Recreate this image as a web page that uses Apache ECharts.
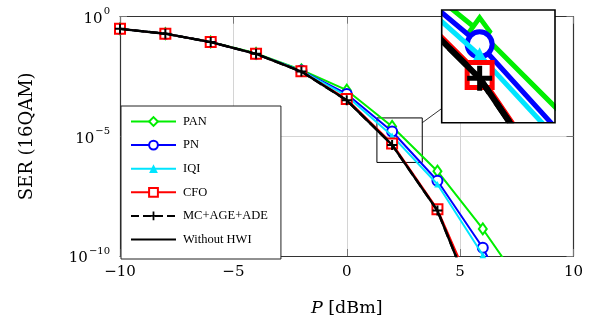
<!DOCTYPE html>
<html><head><meta charset="utf-8">
<script src="https://cdn.jsdelivr.net/npm/echarts@6/dist/echarts.min.js"></script>
<style>html,body{margin:0;padding:0;background:#fff}#c{width:603px;height:322px}</style>
</head><body><div id="c"></div>
<script>
// ---- data ----
const powerDbm = [-10, -8, -6, -4, -2, 0, 2, 4, 6, 8];
const serPAN  = [3.1e-1, 1.95e-1, 8.8e-2, 2.95e-2, 6.0e-3, 8.5e-4, 2.6e-5, 3.5e-7, 1.35e-9, 2.5e-12];
const serPN   = [3.1e-1, 1.95e-1, 8.7e-2, 2.8e-2, 5.6e-3, 5.9e-4, 1.6e-5, 1.4e-7, 2.2e-10, 5e-14];
const serIQI  = [3.1e-1, 1.95e-1, 8.7e-2, 2.8e-2, 5.5e-3, 4.9e-4, 1.05e-5, 1.0e-7, 1.1e-10, 3e-14];
const serCFO  = [3.1e-1, 1.95e-1, 8.7e-2, 2.8e-2, 5.2e-3, 3.6e-4, 5.0e-6, 8.9e-9, 4e-13, null];
const serMC   = [3.1e-1, 1.95e-1, 8.7e-2, 2.8e-2, 5.1e-3, 3.2e-4, 4.4e-6, 7.9e-9, 1.6e-13, null];
const serNoHWI= [3.1e-1, 1.95e-1, 8.7e-2, 2.8e-2, 5.1e-3, 3.2e-4, 4.4e-6, 7.9e-9, 1.6e-13, null];
const seriesNames = ['PAN', 'PN', 'IQI', 'CFO', 'MC+AGE+ADE', 'Without HWI'];
const xTicks = [-10, -5, 0, 5, 10];
const yTicks = [1, 1e-5, 1e-10];
// zoom window shown in the inset (x in dBm, y as log10 exponent)
const zoomX = [1.33, 3.33];
const zoomYExp = [-6.09, -4.23];
const connector = [[3.33, -4.43], [4.17, -3.85]];

const allData = [serPAN, serPN, serIQI, serCFO, serMC, serNoHWI];
const pairs = d => powerDbm.map((x, i) => [x, d[i]]).filter(p => p[1] != null);

const serif = 'DejaVu Serif';
const legendFont = 'Liberation Serif';
const plusPath = 'path://M4,0 H6 V4 H10 V6 H6 V10 H4 V6 H0 V4 H4 Z';

// inset layout
const inset = {left: 441.7, top: 10, width: 113.3, height: 112.7};
const insetScale = 2.5;
const insetLineW = 2 * insetScale;
const padPx = insetLineW / 2; // ECharts expands clip rect by half the line width
const pxPerX = inset.width / (zoomX[1] - zoomX[0]);
const pxPerDec = inset.height / (zoomYExp[1] - zoomYExp[0]);
const innerX = [zoomX[0] + padPx / pxPerX, zoomX[1] - padPx / pxPerX];
const innerY = [Math.pow(10, zoomYExp[0] + padPx / pxPerDec), Math.pow(10, zoomYExp[1] - padPx / pxPerDec)];

const styles = [
  {color: '#00ee00', symbol: 'diamond', size: [8, 11], fill: '#fff', type: 'solid'},
  {color: '#0000ff', symbol: 'circle', size: 10, fill: '#fff', type: 'solid'},
  {color: '#00e5ff', symbol: 'triangle', size: 6.5, fill: null, type: 'solid'},
  {color: '#ff0000', symbol: 'rect', size: 10, fill: '#fff', type: 'solid'},
  {color: '#000000', symbol: plusPath, size: 10, fill: null, type: 'dashed'},
  {color: '#000000', symbol: 'none', size: 0, fill: null, type: 'solid'}
];

function mkSeries(k, xi, yi, scale) {
  const s = styles[k];
  const sz = Array.isArray(s.size) ? s.size.map(v => v * scale) : s.size * scale;
  const hollow = s.fill !== null;
  let itemStyle;
  if (s.symbol === 'none') itemStyle = {color: 'rgba(0,0,0,0)', borderWidth: 0, borderColor: 'rgba(0,0,0,0)'};
  else if (hollow) itemStyle = {color: s.fill, borderColor: s.color, borderWidth: 2 * scale, opacity: 1};
  else itemStyle = {color: s.color, borderWidth: 0};
  return {
    name: seriesNames[k], type: 'line', xAxisIndex: xi, yAxisIndex: yi,
    data: pairs(allData[k]), clip: true, animation: false,
    symbol: s.symbol, symbolSize: sz, showSymbol: s.symbol !== 'none',
    lineStyle: {color: s.color, width: (k >= 4 ? 2.4 : 2) * scale, type: s.type},
    itemStyle: itemStyle,
    emphasis: {disabled: true}, z: 2 + k * 0.01 + (xi === 2 ? 3 : 0)
  };
}

const series = [];
for (let k = 0; k < 6; k++) series.push(mkSeries(k, 0, 0, 1));
for (let k = 0; k < 6; k++) series.push(mkSeries(k, 2, 2, insetScale));
// zoom rectangle + connector in main plot
series.push({
  type: 'line', xAxisIndex: 0, yAxisIndex: 0, data: [], silent: true, z: 3,
  markArea: {silent: true, itemStyle: {color: 'rgba(0,0,0,0)', borderColor: '#000', borderWidth: 1},
    data: [[{coord: [zoomX[0], Math.pow(10, zoomYExp[1])]}, {coord: [zoomX[1], Math.pow(10, zoomYExp[0])]}]]},
  markLine: {silent: true, symbol: 'none', label: {show: false}, animation: false,
    lineStyle: {color: '#000', width: 0.8, type: 'solid'},
    data: [[{coord: [connector[0][0], Math.pow(10, connector[0][1])]},
            {coord: [connector[1][0], Math.pow(10, connector[1][1])]}]]}
});
// magnified grid line inside inset
series.push({
  type: 'line', xAxisIndex: 2, yAxisIndex: 2, data: [], silent: true, z: 4.5,
  markLine: {silent: true, symbol: 'none', label: {show: false}, animation: false,
    lineStyle: {color: '#cfcfcf', width: 2.5, type: 'solid'},
    data: [{yAxis: 1e-5}]}
});

const supLabel = v => {
  const e = Math.round(Math.log10(v));
  return '{b|10}{s|' + (e < 0 ? '\u2212' + (-e) : e) + '}';
};

const frameLine = {show: true, onZero: false, lineStyle: {color: '#333', width: 1.2}};
const tickStyle = {show: true, inside: true, length: 7, lineStyle: {color: '#777'}};

const option = {
  animation: false,
  backgroundColor: '#fff',
  grid: [
    {left: 120, top: 16.7, right: 29.5, bottom: 63, containLabel: false},
    {left: inset.left + padPx, top: inset.top + padPx, width: inset.width - 2 * padPx,
     height: inset.height - 2 * padPx, show: false},
    {left: inset.left, top: inset.top, width: inset.width, height: inset.height, show: true,
     backgroundColor: '#fff', borderWidth: 0, borderColor: '#fff', z: 4},
    {left: inset.left, top: inset.top, width: inset.width, height: inset.height, show: true,
     backgroundColor: 'rgba(0,0,0,0)', borderColor: '#000', borderWidth: 1.6, z: 20}
  ],
  legend: {
    orient: 'vertical', left: 121, top: 106, backgroundColor: '#fff',
    borderColor: '#222', borderWidth: 1, borderRadius: 0, padding: [9, 13, 13, 9],
    itemWidth: 45, itemHeight: 11, itemGap: 10.6, z: 10,
    textStyle: {fontFamily: legendFont, fontSize: 12.5, color: '#000', padding: [0, 0, 0, 2]},
    data: seriesNames, selectedMode: false
  },
  xAxis: [
    {type: 'value', gridIndex: 0, min: -10, max: 10, interval: 5, position: 'bottom',
     name: '{i|P} [dBm]', nameLocation: 'middle', nameGap: 43,
     nameTextStyle: {fontFamily: serif, fontSize: 17.5, color: '#000',
       rich: {i: {fontFamily: serif, fontStyle: 'italic', fontSize: 17.5, color: '#000'}}},
     axisLine: frameLine, axisTick: tickStyle,
     axisLabel: {margin: 9, fontFamily: serif, fontSize: 15, color: '#000',
       formatter: v => (v < 0 ? '\u2212' + (-v) : String(v))},
     splitLine: {show: true, lineStyle: {color: '#d4d4d4', width: 1}}},
    {type: 'value', gridIndex: 0, min: -10, max: 10, interval: 5, position: 'top',
     axisLine: frameLine, axisTick: tickStyle,
     axisLabel: {show: false}, splitLine: {show: false}},
    {type: 'value', gridIndex: 1, min: innerX[0], max: innerX[1], show: false,
     splitLine: {show: false}}
  ],
  yAxis: [
    {type: 'log', logBase: 10, gridIndex: 0, min: 1e-10, max: 1, interval: 5, position: 'left',
     name: 'SER (16QAM)', nameLocation: 'middle', nameGap: 84, nameRotate: 90,
     nameTextStyle: {fontFamily: serif, fontSize: 18, color: '#000'},
     axisLine: frameLine, axisTick: tickStyle,
     minorTick: {show: false},
     axisLabel: {margin: 10, color: '#000', formatter: supLabel,
       rich: {b: {fontFamily: serif, fontSize: 15, color: '#000', padding: [5, 0, 0, 0], verticalAlign: 'bottom'},
              s: {fontFamily: serif, fontSize: 10, color: '#000', verticalAlign: 'top', padding: [0, 0, 0, 1]}}},
     splitLine: {show: true, lineStyle: {color: '#d4d4d4', width: 1}}},
    {type: 'log', logBase: 10, gridIndex: 0, min: 1e-10, max: 1, interval: 5, position: 'right',
     axisLine: frameLine, axisTick: tickStyle,
     axisLabel: {show: false}, splitLine: {show: false}},
    {type: 'log', logBase: 10, gridIndex: 1, min: innerY[0], max: innerY[1], show: false,
     splitLine: {show: false}}
  ],
  series: series
};

const chart = echarts.init(document.getElementById('c'), null, {renderer: 'canvas'});
chart.setOption(option);
</script>
</body></html>
